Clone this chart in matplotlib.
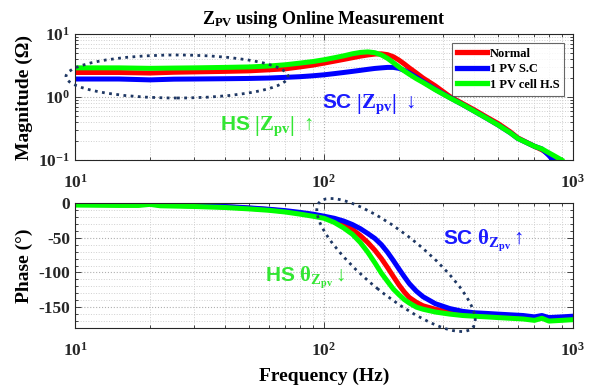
import math
import matplotlib
matplotlib.use("Agg")
import matplotlib.pyplot as plt
from matplotlib.patches import Ellipse
from matplotlib.transforms import IdentityTransform
from matplotlib.ticker import FixedLocator, FuncFormatter, MultipleLocator, LogLocator, NullFormatter

plt.rcParams["font.family"] = ["Liberation Serif", "DejaVu Serif"]
plt.rcParams["font.weight"] = "bold"
plt.rcParams["mathtext.fontset"] = "custom"
plt.rcParams["mathtext.rm"] = "Liberation Serif:bold"
plt.rcParams["mathtext.bf"] = "Liberation Serif:bold"
plt.rcParams["mathtext.it"] = "Liberation Serif:bold"
plt.rcParams["mathtext.sf"] = "Liberation Sans:bold"
plt.rcParams["axes.unicode_minus"] = False

# ---- magnitude data (ohm) ----
mag_freq = [10, 12, 15, 20, 25, 30, 40, 50, 60, 70, 80, 90, 100, 110, 120, 130, 140,
            150, 160, 170, 180, 190, 200, 210, 220, 235, 250, 280, 320, 360, 400, 450,
            500, 560, 600, 700, 750, 800, 830, 870, 900]
mag_normal = [2.45, 2.45, 2.45, 2.40, 2.47, 2.50, 2.55, 2.60, 2.70, 2.80, 3.00, 3.20,
              3.45, 3.70, 3.95, 4.20, 4.45, 4.65, 4.80, 4.85, 4.70, 4.35, 3.85, 3.35,
              2.90, 2.40, 2.00, 1.50, 1.02, 0.79, 0.63, 0.48, 0.38, 0.28, 0.225, 0.165,
              0.145, 0.125, 0.115, 0.100, None]
mag_sc = [1.93, 1.93, 1.93, 1.87, 1.92, 1.93, 1.95, 1.97, 2.00, 2.05, 2.10, 2.17,
          2.25, 2.35, 2.45, 2.55, 2.65, 2.75, 2.84, 2.90, 2.95, 2.95, 2.85, 2.65,
          2.40, 2.05, 1.75, 1.32, 0.98, 0.76, 0.60, 0.46, 0.36, 0.27, 0.22, 0.165,
          0.150, 0.118, 0.100, None, None]
mag_hs = [2.90, 2.90, 2.90, 2.85, 2.88, 2.90, 2.95, 3.00, 3.10, 3.25, 3.45, 3.65,
          3.90, 4.20, 4.50, 4.85, 5.10, 5.20, 5.05, 4.65, 4.10, 3.50, 3.00, 2.60,
          2.30, 1.95, 1.70, 1.30, 0.97, 0.76, 0.60, 0.46, 0.36, 0.27, 0.22, 0.165,
          0.150, 0.130, 0.120, 0.108, 0.100]

# ---- phase data (deg) ----
ph_freq = [10, 15, 18, 20, 22, 30, 40, 50, 60, 70, 80, 90, 100, 110, 120, 130, 140,
           150, 160, 170, 180, 190, 200, 210, 220, 235, 250, 280, 320, 360, 400, 450,
           500, 560, 630, 700, 750, 800, 900, 1000]
ph_normal = [-2, -2.5, -2.5, -1, -3, -4, -5.5, -7.5, -9.5, -12, -14.5, -17, -20, -25,
             -31, -38, -47, -57, -68, -80, -93, -106, -118, -128, -136, -143, -148,
             -153, -157, -159, -160, -162, -163, -164, -165, -166, -164, -167, -166,
             -165]
ph_sc = [-2, -2, -2, 0, -3, -4, -5, -7, -9, -11, -13.5, -16, -19, -22, -26, -31, -37,
         -44, -51, -60, -71, -83, -95, -106, -116, -127, -135, -145, -152, -156, -158,
         -159, -160, -161, -162, -164, -162, -165, -164, -163]
ph_hs = [-3, -3.5, -3.5, -2, -4, -5, -6.5, -8.5, -10.5, -13, -16, -19, -22, -28, -36,
         -45, -57, -71, -86, -101, -113, -124, -132, -139, -144, -150, -153, -157,
         -160, -162, -163, -164, -165, -166, -167, -169, -166, -170, -169, -168]

labels = ["Normal", "1 PV S.C", "1 PV cell H.S"]
colors = ["#ff0000", "#0000ff", "#00ff00"]


def clean(f, v):
    pts = [(a, b) for a, b in zip(f, v) if b is not None]
    return [p[0] for p in pts], [p[1] for p in pts]


fig = plt.figure(figsize=(6.04, 3.92), dpi=100)
ax1 = fig.add_axes([75 / 604, 1 - 160 / 392, 498 / 604, 126 / 392])
ax2 = fig.add_axes([75 / 604, 1 - 328 / 392, 498 / 604, 125 / 392])

LW = 3.6
handles = []
for series, c, lab in zip([mag_normal, mag_sc, mag_hs], colors, labels):
    f, v = clean(mag_freq, series)
    h, = ax1.plot(f, v, color=c, lw=LW, label=lab, solid_joinstyle="round")
    handles.append(h)

for series, c in zip([ph_normal, ph_sc, ph_hs], colors):
    ax2.plot(ph_freq, series, color=c, lw=LW, solid_joinstyle="round")


def logfmt(val, pos):
    e = int(round(math.log10(val)))
    return "$\\mathbf{10^{%d}}$" % e


for ax in (ax1, ax2):
    ax.set_xscale("log")
    ax.set_xlim(10, 1000)
    ax.xaxis.set_major_locator(FixedLocator([10, 100, 1000]))
    ax.xaxis.set_minor_locator(LogLocator(base=10, subs=range(2, 10)))
    ax.xaxis.set_minor_formatter(NullFormatter())
    ax.xaxis.set_major_formatter(FuncFormatter(logfmt))
    ax.grid(True, which="major", ls=":", color="#b0b0b0", lw=0.8)
    ax.grid(True, which="minor", ls=":", color="#d0d0d0", lw=0.7)
    ax.tick_params(which="both", direction="in", top=True, right=True,
                   colors="#262626", labelsize=12.5, width=0.6)
    ax.tick_params(which="major", length=4)
    ax.tick_params(which="minor", length=2)
    ax.tick_params(axis="x", pad=10)
    for s in ax.spines.values():
        s.set_color("#262626")
        s.set_linewidth(0.8)

ax1.set_yscale("log")
ax1.set_ylim(0.1, 10)
ax1.yaxis.set_major_locator(FixedLocator([0.1, 1, 10]))
ax1.yaxis.set_minor_locator(LogLocator(base=10, subs=range(2, 10)))
ax1.yaxis.set_minor_formatter(NullFormatter())
ax1.yaxis.set_major_formatter(FuncFormatter(logfmt))
ax1.set_ylabel("Magnitude (Ω)", fontsize=14, fontweight="bold", labelpad=4)

ax2.set_ylim(-180, 0)
ax2.yaxis.set_major_locator(FixedLocator([-150, -100, -50, 0]))
ax2.yaxis.set_minor_locator(MultipleLocator(10))
ax2.yaxis.set_major_formatter(FuncFormatter(lambda v, p: "%d" % v))
ax2.set_ylabel("Phase (°)", fontsize=14, fontweight="bold", labelpad=4)
ax2.set_xlabel("Frequency (Hz)", fontsize=14, fontweight="bold", labelpad=6)

ax1.set_title("$\\mathbf{Z_{PV}}$ using Online Measurement", fontsize=13,
              fontweight="bold", pad=7)

leg = ax1.legend(handles, labels, loc="upper right",
                 frameon=True, fancybox=False, edgecolor="#404040",
                 handlelength=2.4, handletextpad=0.25, borderpad=0.4,
                 labelspacing=0.28, borderaxespad=0.7,
                 prop={"family": "Liberation Serif", "weight": "bold", "size": 9})
leg.get_frame().set_linewidth(0.8)
for h in leg.get_lines():
    h.set_linewidth(3.8)

# dotted ellipses highlighting regions of interest
H = 392
e1 = Ellipse((177, H - 76.5), 222, 43, angle=0, transform=IdentityTransform(),
             fill=False, ls=(0, (1, 1.6)), lw=2.0, edgecolor="#1f3864")
e2 = Ellipse((396, H - 265), 198, 60, angle=-39, transform=IdentityTransform(),
             fill=False, ls=(0, (1, 1.6)), lw=2.0, edgecolor="#1f3864")
fig.add_artist(e1)
fig.add_artist(e2)

blue_t = "#1a1aff"
green_t = "#33e633"
fig.text(322 / 604, 1 - 105 / 392,
         r"$\mathsf{SC}\ \left|\mathbf{Z_{pv}}\right|\ \mathsf{\downarrow}$",
         color=blue_t, fontsize=15, va="center", ha="left")
fig.text(220 / 604, 1 - 127 / 392,
         r"$\mathsf{HS}\ \left|\mathbf{Z_{pv}}\right|\ \mathsf{\uparrow}$",
         color=green_t, fontsize=15, va="center", ha="left")
fig.text(443 / 604, 1 - 240 / 392,
         r"$\mathsf{SC}\ \mathbf{\theta_{Z_{pv}}}\mathsf{\uparrow}$",
         color=blue_t, fontsize=15, va="center", ha="left")
fig.text(265 / 604, 1 - 277 / 392,
         r"$\mathsf{HS}\ \mathbf{\theta_{Z_{pv}}}\mathsf{\downarrow}$",
         color=green_t, fontsize=15, va="center", ha="left")

fig.savefig("out.png", dpi=100)
